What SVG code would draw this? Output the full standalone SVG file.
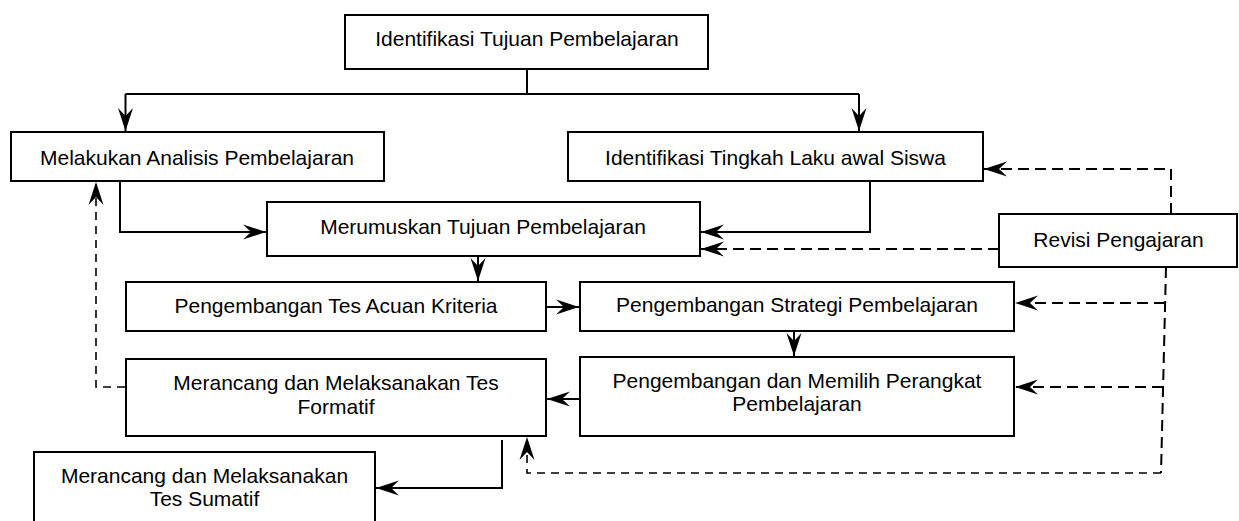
<svg xmlns="http://www.w3.org/2000/svg" width="1239" height="521" viewBox="0 0 1239 521">
<style>
.box{fill:#fff;stroke:#000;stroke-width:2}
.t{font-family:"Liberation Sans",Arial,sans-serif;font-size:21px;fill:#000;text-anchor:middle}
.c{fill:none;stroke:#000;stroke-width:2}
.d{fill:none;stroke:#000;stroke-width:2;stroke-dasharray:11 6}
.d2{fill:none;stroke:#000;stroke-width:1.6;stroke-dasharray:8 6}
</style>
<defs>
<marker id="ah" viewBox="-25 -9 26 18" refX="0" refY="0" markerWidth="26" markerHeight="18" markerUnits="userSpaceOnUse" orient="auto">
<path d="M0,0 L-23,-7.5 L-15,0 L-23,7.5 Z" fill="#000"/>
</marker>
</defs>
<g id="connectors">
<path class="c" d="M527,69 V94"/>
<path class="c" d="M125.5,94 H859"/>
<path class="c" d="M125.5,94 V131" marker-end="url(#ah)"/>
<path class="c" d="M859,94 V131" marker-end="url(#ah)"/>
<path class="c" d="M120,181 V232 H266" marker-end="url(#ah)"/>
<path class="c" d="M870,181 V232 H701" marker-end="url(#ah)"/>
<path class="c" d="M478,256 V281" marker-end="url(#ah)"/>
<path class="c" d="M546,307 H579" marker-end="url(#ah)"/>
<path class="c" d="M794,331 V356" marker-end="url(#ah)"/>
<path class="c" d="M580,399 H547" marker-end="url(#ah)"/>
<path class="c" d="M502,440 V488 H376" marker-end="url(#ah)"/>
<path class="d2" d="M125,387 H96 V182" marker-end="url(#ah)"/>
<path class="d" d="M1171,214 V169 H984" marker-end="url(#ah)"/>
<path class="d" d="M999,249 H701" marker-end="url(#ah)"/>
<path class="d" d="M1166,267 L1161,473"/>
<path class="d2" d="M1161,473 H527 V437" marker-end="url(#ah)"/>
<path class="d" d="M1165,303 H1015" marker-end="url(#ah)"/>
<path class="d" d="M1163,387 H1015" marker-end="url(#ah)"/>
</g>
<g id="n1"><rect class="box" x="345" y="15" width="363" height="54"/><text class="t" x="527" y="46">Identifikasi Tujuan Pembelajaran</text></g>
<g id="n2"><rect class="box" x="11" y="132" width="373" height="49"/><text class="t" x="197" y="164.5">Melakukan Analisis Pembelajaran</text></g>
<g id="n3"><rect class="box" x="568" y="132" width="415" height="49"/><text class="t" x="775.5" y="164.5">Identifikasi Tingkah Laku awal Siswa</text></g>
<g id="n4"><rect class="box" x="267" y="202" width="433" height="54"/><text class="t" x="483" y="233.5">Merumuskan Tujuan Pembelajaran</text></g>
<g id="n5"><rect class="box" x="999" y="214" width="238" height="53"/><text class="t" x="1118.5" y="246.5">Revisi Pengajaran</text></g>
<g id="n6"><rect class="box" x="126" y="282" width="420" height="49"/><text class="t" x="336" y="313">Pengembangan Tes Acuan Kriteria</text></g>
<g id="n7"><rect class="box" x="580" y="282" width="434" height="49"/><text class="t" x="797" y="312">Pengembangan Strategi Pembelajaran</text></g>
<g id="n8"><rect class="box" x="126" y="359" width="420" height="77"/><text class="t" x="336" y="390">Merancang dan Melaksanakan Tes</text><text class="t" x="336" y="414">Formatif</text></g>
<g id="n9"><rect class="box" x="580" y="357" width="434" height="79"/><text class="t" x="797" y="388">Pengembangan dan Memilih Perangkat</text><text class="t" x="797" y="411">Pembelajaran</text></g>
<g id="n10"><rect class="box" x="34" y="452" width="341" height="80"/><text class="t" x="204.5" y="482.5">Merancang dan Melaksanakan</text><text class="t" x="204.5" y="505.5">Tes Sumatif</text></g>
</svg>
